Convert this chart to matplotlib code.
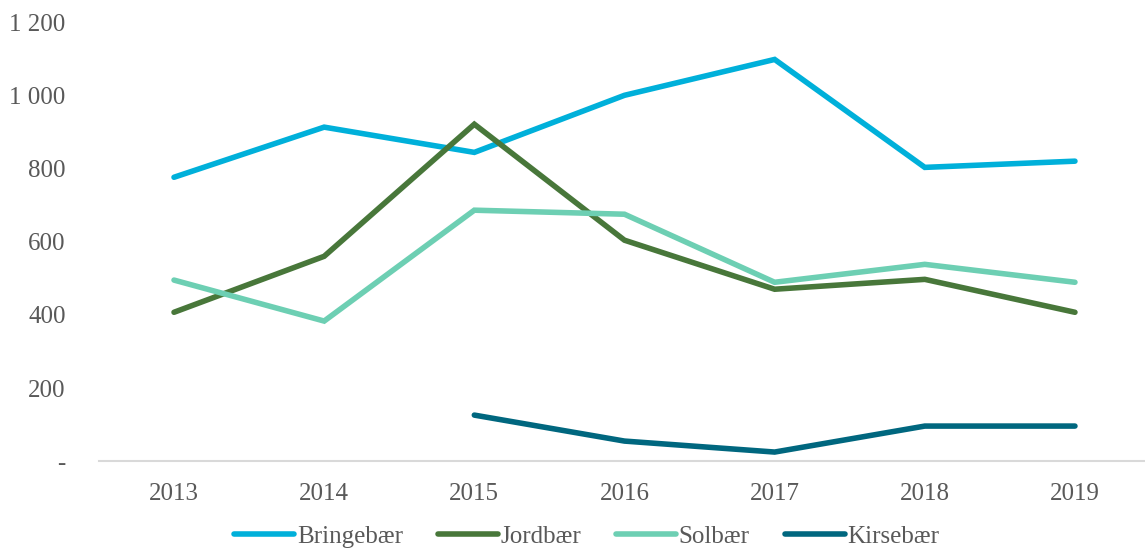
import numpy as np
from matplotlib import pyplot as plt
from matplotlib.ticker import FuncFormatter

years = ["2013", "2014", "2015", "2016", "2017", "2018", "2019"]
bringebaer = [776, 913, 844, 1000, 1098, 803, 820]
jordbaer = [407, 560, 921, 604, 470, 497, 407]
solbaer = [495, 383, 686, 675, 489, 538, 489]
kirsebaer = [None, None, 126, 55, 25, 96, 96]

names = ["Bringebær", "Jordbær", "Solbær", "Kirsebær"]
colors = ["#00b0da", "#48773a", "#6dcfb3", "#00677f"]

plt.rcParams['font.family'] = ['Liberation Serif', 'DejaVu Serif']
txt = "#595959"

fig = plt.figure(figsize=(11.45, 5.53), dpi=100)
ax = fig.add_axes([0.0864, 0.166, 0.918, 0.794])

x = np.arange(len(years))
for vals, name, col in zip([bringebaer, jordbaer, solbaer, kirsebaer], names, colors):
	v = np.array([np.nan if a is None else a for a in vals], dtype=float)
	ax.plot(x, v, color=col, lw=4.0, label=name, solid_capstyle='round', solid_joinstyle='miter')

ax.set_xlim(-0.5, len(years) - 0.5)
ax.set_ylim(0, 1200)
ax.set_yticks(range(0, 1201, 200))

def fmt(v, pos):
	if v == 0:
		return "-"
	return "{:,}".format(int(v)).replace(",", " ")

ax.yaxis.set_major_formatter(FuncFormatter(fmt))
ax.set_xticks(x)
ax.set_xticklabels(years)
ax.tick_params(axis='both', length=0, labelsize=18, colors=txt)
ax.tick_params(axis='x', pad=16)
ax.tick_params(axis='y', pad=24)
for lab in ax.get_yticklabels():
	lab.set_horizontalalignment('right')

for s in ['top', 'right', 'left']:
	ax.spines[s].set_visible(False)
ax.spines['bottom'].set_color('#d9d9d9')
ax.spines['bottom'].set_linewidth(1.5)

leg = ax.legend(loc='upper center', bbox_to_anchor=(0.464, -0.118), ncol=4, frameon=False,
	fontsize=18, handlelength=2.4, handletextpad=0.1, columnspacing=1.4, borderpad=0.0)
for t in leg.get_texts():
	t.set_color(txt)

fig.savefig("out.png", dpi=100)
